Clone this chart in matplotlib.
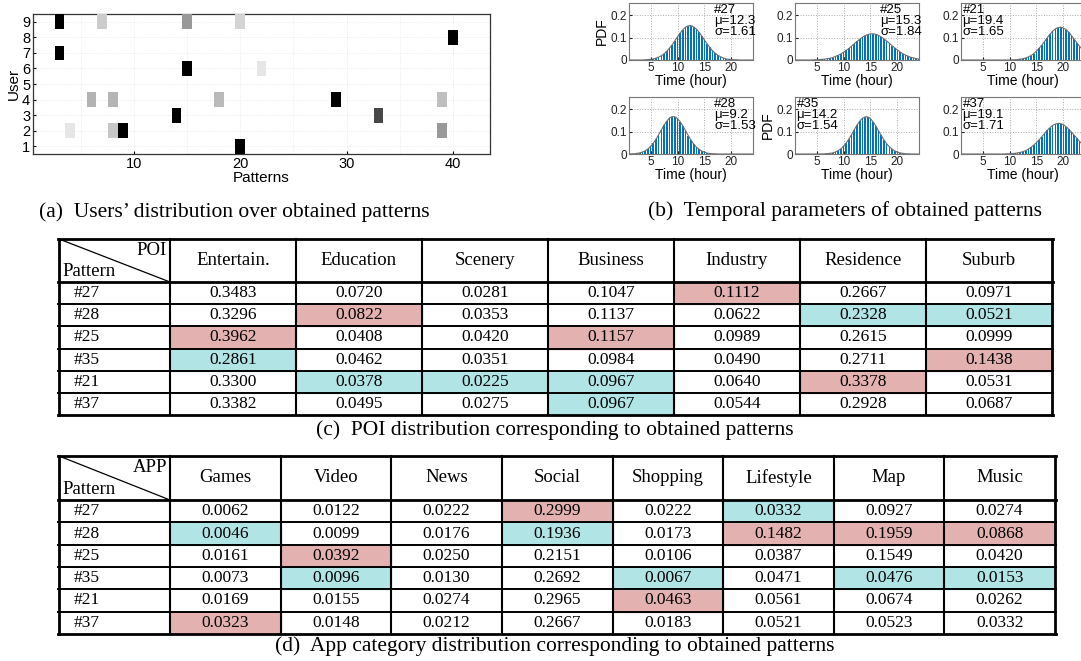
import numpy as np
import matplotlib.pyplot as plt
from matplotlib.patches import Rectangle

W, H = 1081, 661
SANS = ["Liberation Sans", "DejaVu Sans"]
SERIF = ["Liberation Serif", "DejaVu Serif"]

# ---- (a) users' distribution over obtained patterns ----
users = [9, 9, 9, 9, 8, 7, 6, 6, 4, 4, 4, 4, 4, 3, 3, 2, 2, 2, 2, 1]
user_patterns = [3, 7, 15, 20, 40, 3, 15, 22, 6, 8, 18, 29, 39, 14, 33, 4, 8, 9, 39, 20]
shades = [1.0, 0.2, 0.4, 0.17, 1.0, 1.0, 1.0, 0.1, 0.3, 0.29, 0.27, 1.0, 0.25,
          1.0, 0.72, 0.1, 0.22, 1.0, 0.4, 1.0]

# ---- (b) temporal PDFs of six patterns ----
hours = np.arange(1, 24.5, 0.5)
pdf_ids = ["#27", "#25", "#21", "#28", "#35", "#37"]
pdf_mu = [12.3, 15.3, 19.4, 9.2, 14.2, 19.1]
pdf_sigma = [1.61, 1.84, 1.65, 1.53, 1.54, 1.71]
pdf_27 = [0] * 6 + [0.001, 0.002, 0.003, 0.005, 0.008, 0.013, 0.019, 0.028, 0.039, 0.053,
                    0.068, 0.086, 0.104, 0.121, 0.136, 0.147, 0.153, 0.154, 0.148, 0.138,
                    0.124, 0.107, 0.089, 0.072, 0.056, 0.041, 0.030, 0.021, 0.014, 0.009,
                    0.005, 0.003, 0.002, 0.001, 0.001] + [0] * 6
pdf_25 = [0] * 6 + [0, 0.001, 0.001, 0.002, 0.003, 0.004, 0.006, 0.008, 0.011, 0.016,
                    0.021, 0.027, 0.035, 0.043, 0.052, 0.062, 0.073, 0.083, 0.093, 0.102,
                    0.109, 0.114, 0.117, 0.117, 0.115, 0.110, 0.103, 0.095, 0.085, 0.075,
                    0.064, 0.054, 0.045, 0.036, 0.028, 0.022, 0.017, 0.012, 0.009, 0.006,
                    0.004]
pdf_21 = [0] * 18 + [0, 0.001, 0.001, 0.002, 0.004, 0.006, 0.009, 0.014, 0.020, 0.029,
                     0.040, 0.053, 0.067, 0.083, 0.100, 0.115, 0.129, 0.139, 0.145, 0.147,
                     0.143, 0.136, 0.124, 0.109, 0.093, 0.077, 0.061, 0.047, 0.035]
pdf_28 = [0, 0.001, 0.001, 0.003, 0.005, 0.009, 0.014, 0.022, 0.034, 0.048,
          0.066, 0.086, 0.108, 0.129, 0.147, 0.161, 0.167, 0.167, 0.158, 0.144,
          0.125, 0.104, 0.082, 0.062, 0.045, 0.031, 0.021, 0.013, 0.008, 0.004,
          0.002, 0.001, 0.001] + [0] * 14
pdf_35 = [0] * 10 + [0, 0.001, 0.002, 0.003, 0.005, 0.009, 0.015, 0.023, 0.035, 0.049,
                     0.067, 0.087, 0.109, 0.129, 0.147, 0.160, 0.166, 0.166, 0.158, 0.144,
                     0.125, 0.104, 0.083, 0.063, 0.046, 0.032, 0.022, 0.014, 0.008, 0.005,
                     0.003, 0.001, 0.001] + [0] * 4
pdf_37 = [0] * 16 + [0, 0.001, 0.001, 0.002, 0.003, 0.005, 0.007, 0.011, 0.015, 0.022,
                     0.030, 0.040, 0.051, 0.064, 0.078, 0.092, 0.106, 0.118, 0.128, 0.134,
                     0.137, 0.136, 0.131, 0.122, 0.111, 0.098, 0.084, 0.070, 0.056, 0.044,
                     0.034]
pdf_values = [pdf_27, pdf_25, pdf_21, pdf_28, pdf_35, pdf_37]

# ---- (c) POI table ----
row_labels = ["#27", "#28", "#25", "#35", "#21", "#37"]
poi_cols = ["Entertain.", "Education", "Scenery", "Business", "Industry", "Residence", "Suburb"]
poi_vals = [
    [0.3483, 0.0720, 0.0281, 0.1047, 0.1112, 0.2667, 0.0971],
    [0.3296, 0.0822, 0.0353, 0.1137, 0.0622, 0.2328, 0.0521],
    [0.3962, 0.0408, 0.0420, 0.1157, 0.0989, 0.2615, 0.0999],
    [0.2861, 0.0462, 0.0351, 0.0984, 0.0490, 0.2711, 0.1438],
    [0.3300, 0.0378, 0.0225, 0.0967, 0.0640, 0.3378, 0.0531],
    [0.3382, 0.0495, 0.0275, 0.0967, 0.0544, 0.2928, 0.0687],
]
poi_high = [("#27", "Industry"), ("#28", "Education"), ("#25", "Entertain."),
            ("#25", "Business"), ("#35", "Suburb"), ("#21", "Residence")]
poi_low = [("#28", "Residence"), ("#28", "Suburb"), ("#35", "Entertain."),
           ("#21", "Education"), ("#21", "Scenery"), ("#21", "Business"), ("#37", "Business")]

# ---- (d) App table ----
app_cols = ["Games", "Video", "News", "Social", "Shopping", "Lifestyle", "Map", "Music"]
app_vals = [
    [0.0062, 0.0122, 0.0222, 0.2999, 0.0222, 0.0332, 0.0927, 0.0274],
    [0.0046, 0.0099, 0.0176, 0.1936, 0.0173, 0.1482, 0.1959, 0.0868],
    [0.0161, 0.0392, 0.0250, 0.2151, 0.0106, 0.0387, 0.1549, 0.0420],
    [0.0073, 0.0096, 0.0130, 0.2692, 0.0067, 0.0471, 0.0476, 0.0153],
    [0.0169, 0.0155, 0.0274, 0.2965, 0.0463, 0.0561, 0.0674, 0.0262],
    [0.0323, 0.0148, 0.0212, 0.2667, 0.0183, 0.0521, 0.0523, 0.0332],
]
app_high = [("#27", "Social"), ("#28", "Lifestyle"), ("#28", "Map"), ("#28", "Music"),
            ("#25", "Video"), ("#21", "Shopping"), ("#37", "Games")]
app_low = [("#27", "Lifestyle"), ("#28", "Games"), ("#28", "Social"), ("#35", "Video"),
           ("#35", "Shopping"), ("#35", "Map"), ("#35", "Music")]

PINK = "#E4B1B1"
TEAL = "#B1E4E5"
BLUE = "#0072BD"


def px_rect(left, top, right, bottom):
    return [left / W, 1 - bottom / H, (right - left) / W, (bottom - top) / H]


fig = plt.figure(figsize=(W / 100, H / 100), dpi=100)

# (a)
ax = fig.add_axes(px_rect(33, 14, 490, 154))
ax.bar(user_patterns, 0.95, bottom=np.array(users) - 0.475, width=0.92,
       color=[plt.cm.gray_r(s) for s in shades], zorder=3)
ax.set_xlim(0.5, 43.5)
ax.set_ylim(0.5, 9.5)
ax.set_xticks([10, 20, 30, 40])
ax.set_yticks(range(1, 10))
ax.set_xticks(range(5, 44, 5), minor=True)
ax.grid(True, which="both", linestyle=":", color="#e6e6e6", linewidth=0.6, zorder=0)
ax.tick_params(length=2, direction="in", labelsize=10.5, pad=2, which="major")
ax.tick_params(length=0, which="minor")
for lab in ax.get_xticklabels() + ax.get_yticklabels():
    lab.set_family(SANS)
ax.set_xlabel("Patterns", family=SANS, fontsize=11, labelpad=0)
ax.set_ylabel("User", family=SANS, fontsize=11, labelpad=1)
for sp in ax.spines.values():
    sp.set_linewidth(0.9)
    sp.set_color("#333333")

# (b)
col_left = [629, 795, 961]
row_top = [3, 97]
for i, (pid, mu, sg, vals) in enumerate(zip(pdf_ids, pdf_mu, pdf_sigma, pdf_values)):
    r, c = divmod(i, 3)
    left, top = col_left[c], row_top[r]
    bx = fig.add_axes(px_rect(left, top, left + 124, top + 57))
    bx.bar(hours, vals, width=0.3, color=BLUE, zorder=2)
    bx.plot(hours, vals, color="#6e6e6e", linewidth=0.8, zorder=3)
    bx.set_xlim(1, 24)
    bx.set_ylim(0, 0.255)
    bx.set_xticks([5, 10, 15, 20])
    bx.set_yticks([0, 0.1, 0.2])
    bx.set_yticklabels(["0", "0.1", "0.2"])
    bx.grid(True, linestyle=":", color="#aaaaaa", linewidth=0.7, zorder=0)
    bx.tick_params(length=2, direction="in", labelsize=8.5, pad=1.5, colors="#222222")
    for lab in bx.get_xticklabels() + bx.get_yticklabels():
        lab.set_family(SANS)
    for sp in bx.spines.values():
        sp.set_linewidth(0.8)
        sp.set_color("#777777")
    bx.set_xlabel("Time (hour)", family=SANS, fontsize=10, labelpad=0)
    if pid in ("#27", "#35"):
        bx.set_ylabel("PDF", family=SANS, fontsize=10, labelpad=1)
    label = f"{pid}\nμ={mu}\nσ={sg:.2f}"
    if mu < 17 and pid != "#35":
        bx.text(16.8, 0.252, label, va="top", ha="left", family=SANS,
                fontsize=9.5, linespacing=0.9, zorder=4)
    else:
        bx.text(1.3, 0.252, label, va="top", ha="left", family=SANS,
                fontsize=9.5, linespacing=0.9, zorder=4)

# tables
tab = fig.add_axes([0, 0, 1, 1])
tab.set_xlim(0, W)
tab.set_ylim(H, 0)
tab.axis("off")


def draw_table(top, head_bottom, bottom, right, corner, cols, vals, high, low):
    left, first = 59, 170
    cw = (right - first) / len(cols)
    rh = (bottom - head_bottom) / len(row_labels)
    xs = [left] + [first + k * cw for k in range(len(cols) + 1)]
    ys = [top] + [head_bottom + k * rh for k in range(len(row_labels) + 1)]
    for cells, colr in ((high, PINK), (low, TEAL)):
        for rl, cn in cells:
            ri, ci = row_labels.index(rl), cols.index(cn)
            tab.add_patch(Rectangle((xs[ci + 1], ys[ri + 1]), cw, rh, color=colr, zorder=1))
    for k, y in enumerate(ys):
        lw = 2.0 if k in (0, 1, len(ys) - 1) else 1.4
        tab.plot([left - 1, right + 1], [y, y], color="black", linewidth=lw, zorder=3)
    for k, x in enumerate(xs):
        lw = 2.0 if k in (0, len(xs) - 1) else 1.5
        tab.plot([x, x], [top, bottom], color="black", linewidth=lw, zorder=3)
    tab.plot([left, first], [top, head_bottom], color="black", linewidth=0.9, zorder=3)
    tab.text(first - 3, top + 16, corner, ha="right", va="baseline", family=SERIF, fontsize=13.5)
    tab.text(left + 3, head_bottom - 6, "Pattern", ha="left", va="baseline", family=SERIF, fontsize=13.5)
    for ci, cn in enumerate(cols):
        tab.text(first + (ci + 0.5) * cw, (top + head_bottom) / 2, cn, ha="center",
                 va="center", family=SERIF, fontsize=13.5)
    for ri, rl in enumerate(row_labels):
        yc = head_bottom + (ri + 0.5) * rh
        tab.text(left + 15, yc, rl, ha="left", va="center", family=SERIF, fontsize=12.5)
        for ci, v in enumerate(vals[ri]):
            tab.text(first + (ci + 0.5) * cw, yc, f"{v:.4f}", ha="center", va="center",
                     family=SERIF, fontsize=12.5, zorder=4)


draw_table(239, 282, 415, 1052, "POI", poi_cols, poi_vals, poi_high, poi_low)
draw_table(456, 500, 634, 1055, "APP", app_cols, app_vals, app_high, app_low)

# captions
cap = dict(family=SERIF, fontsize=15.5, ha="center", va="center")
fig.text(234 / W, 1 - 212 / H, "(a)  Users\u2019 distribution over obtained patterns", **cap)
fig.text(845 / W, 1 - 211 / H, "(b)  Temporal parameters of obtained patterns", **cap)
fig.text(555 / W, 1 - 430 / H, "(c)  POI distribution corresponding to obtained patterns", **cap)
fig.text(555 / W, 1 - 646 / H, "(d)  App category distribution corresponding to obtained patterns", **cap)

fig.savefig("out.png", dpi=100)
